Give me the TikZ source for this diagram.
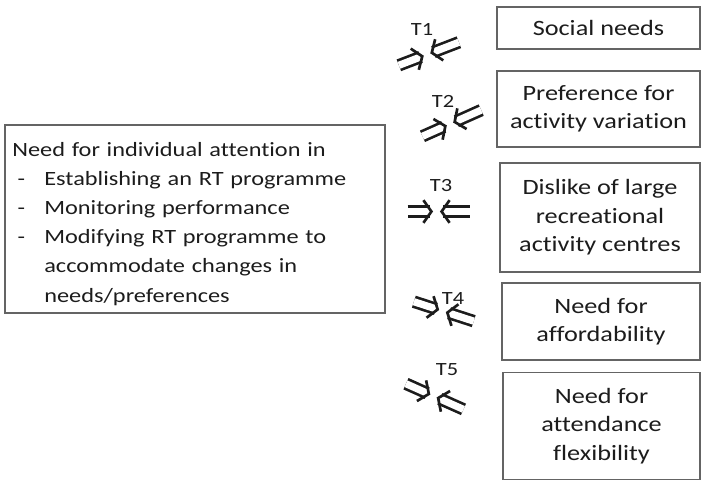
\documentclass[tikz,border=0pt]{standalone}
\usepackage{fontspec}
\setmainfont{Carlito}[FakeStretch=1.2, Ligatures=NoCommon]
\usetikzlibrary{arrows.meta}
\definecolor{frame-gray}{RGB}{100,100,100}
\definecolor{ink-black}{RGB}{28,28,28}

\begin{document}
\begin{tikzpicture}[
  x=0.75pt, y=-0.75pt,
  needbox/.style={rectangle, draw=frame-gray, line width=1.1pt, text=ink-black,
                  font=\fontsize{15.2}{21.9}\selectfont, align=left,
                  text width=274pt, inner xsep=5.6pt, minimum height=141pt},
  factbox/.style={rectangle, draw=frame-gray, line width=1.1pt, text=ink-black,
                  font=\fontsize{16.4}{21.3}\selectfont, align=center, inner sep=0pt},
  dbl/.style={double, double distance=5.4pt, line width=2pt, draw=ink-black, shorten >=2.6pt},
  chev/.style={draw=white, line width=0.4pt,
               -{Straight Barb[length=6pt, width=17pt, line width=2pt, color=ink-black]}},
  tlbl/.style={font=\fontsize{14}{16}\selectfont, text=ink-black, inner sep=0pt}
]
  \useasboundingbox (0,0) rectangle (702,480);

  % left side
  \node[needbox] (attn) at (195,219) {\rule{0pt}{17.5pt}Need for individual attention in\\
    \makebox[24pt][l]{\hspace*{4pt}-}Establishing an RT programme\\
    \makebox[24pt][l]{\hspace*{4pt}-}Monitoring performance\\
    \makebox[24pt][l]{\hspace*{4pt}-}Modifying RT programme to\\
    \hspace*{24pt}accommodate changes in\\
    \hspace*{24pt}needs/preferences};

  % right side
  \node[factbox, minimum width=152pt, minimum height=31.5pt] (social) at (598.5,28)  {Social needs};
  \node[factbox, minimum width=152pt, minimum height=57pt]   (pref)   at (598.5,109) {Preference for\\activity variation};
  \node[factbox, minimum width=150pt, minimum height=82pt]   (dislike) at (600,217.5) {Dislike of large\\recreational\\activity centres};
  \node[factbox, minimum width=148.5pt, minimum height=58pt] (afford) at (601,321.5) {Need for\\affordability};
  \node[factbox, minimum width=147.5pt, minimum height=80pt] (flex)   at (601.5,426) {Need for\\attendance\\flexibility};

  % T1 .. T5
  \node[tlbl] (t1) at (422,29)  {T1};
  \node[tlbl] (t2) at (443,101) {T2};
  \node[tlbl] (t3) at (441,185) {T3};
  \node[tlbl] (t4) at (453,298) {T4};
  \node[tlbl] (t5) at (447,370) {T5};

  \coordinate (g1) at (427,54.5);
  \coordinate (g2) at (450,124);
  \coordinate (g3) at (436.5,211.5);
  \coordinate (g4) at (442.5,311);
  \coordinate (g5) at (433.5,396);

  \path (g1) ++(201:2.6pt) coordinate (l1) ++(201:20pt) coordinate (ll1);
  \path (g1) ++(21:2.6pt)  coordinate (r1) ++(21:23pt)  coordinate (rr1);
  \path (g2) ++(204:2.6pt) coordinate (l2) ++(204:20pt) coordinate (ll2);
  \path (g2) ++(24:2.6pt)  coordinate (r2) ++(24:23pt)  coordinate (rr2);
  \path (g3) ++(180:2.6pt) coordinate (l3) ++(180:19pt) coordinate (ll3);
  \path (g3) ++(0:2.6pt)   coordinate (r3) ++(0:22.5pt) coordinate (rr3);
  \path (g4) ++(162:2.6pt) coordinate (l4) ++(162:20pt) coordinate (ll4);
  \path (g4) ++(-18:2.6pt) coordinate (r4) ++(-18:22pt) coordinate (rr4);
  \path (g5) ++(156:2.6pt) coordinate (l5) ++(156:20pt) coordinate (ll5);
  \path (g5) ++(-24:2.6pt) coordinate (r5) ++(-24:22pt) coordinate (rr5);

  \draw[dbl] (ll1) -- (l1);  \draw[chev] (ll1) -- (l1);
  \draw[dbl] (rr1) -- (r1);  \draw[chev] (rr1) -- (r1);
  \draw[dbl] (ll2) -- (l2);  \draw[chev] (ll2) -- (l2);
  \draw[dbl] (rr2) -- (r2);  \draw[chev] (rr2) -- (r2);
  \draw[dbl] (ll3) -- (l3);  \draw[chev] (ll3) -- (l3);
  \draw[dbl] (rr3) -- (r3);  \draw[chev] (rr3) -- (r3);
  \draw[dbl] (ll4) -- (l4);  \draw[chev] (ll4) -- (l4);
  \draw[dbl] (rr4) -- (r4);  \draw[chev] (rr4) -- (r4);
  \draw[dbl] (ll5) -- (l5);  \draw[chev] (ll5) -- (l5);
  \draw[dbl] (rr5) -- (r5);  \draw[chev] (rr5) -- (r5);
\end{tikzpicture}
\end{document}
